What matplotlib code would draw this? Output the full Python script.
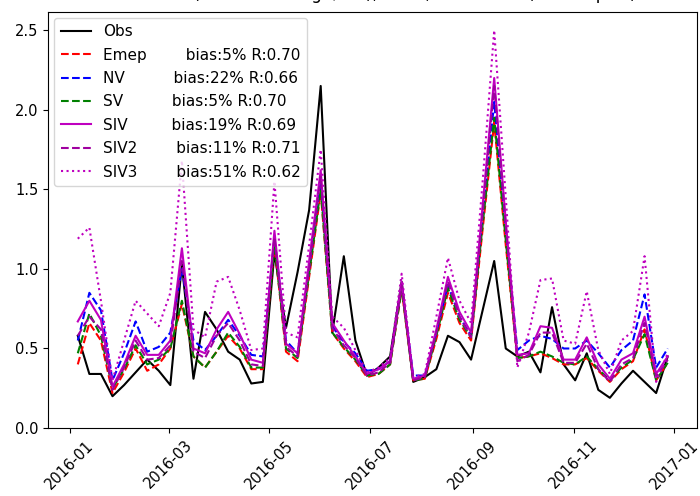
import matplotlib
matplotlib.use("Agg")
import matplotlib.pyplot as plt
import pandas as pd

dates = pd.date_range("2016-01-06", periods=52, freq="7D")

obs = [0.58, 0.34, 0.34, 0.20, 0.27, 0.35, 0.43, 0.36, 0.27, 1.03,
       0.31, 0.73, 0.62, 0.48, 0.43, 0.28, 0.29, 1.10, 0.63, 0.98,
       1.37, 2.15, 0.60, 1.08, 0.55, 0.33, 0.38, 0.45, 0.92, 0.29,
       0.32, 0.37, 0.58, 0.54, 0.43, 0.74, 1.05, 0.50, 0.45, 0.48,
       0.35, 0.76, 0.40, 0.30, 0.47, 0.24, 0.19, 0.28, 0.36, 0.29,
       0.22, 0.45]
emep = [0.40, 0.66, 0.55, 0.22, 0.35, 0.50, 0.36, 0.40, 0.50, 0.78,
        0.45, 0.38, 0.48, 0.58, 0.50, 0.37, 0.37, 1.15, 0.48, 0.42,
        0.95, 1.48, 0.60, 0.50, 0.42, 0.32, 0.34, 0.40, 0.87, 0.30,
        0.31, 0.56, 0.85, 0.66, 0.55, 1.25, 1.92, 1.15, 0.44, 0.45,
        0.47, 0.44, 0.40, 0.40, 0.44, 0.36, 0.29, 0.37, 0.42, 0.62,
        0.30, 0.41]
nv = [0.55, 0.85, 0.74, 0.30, 0.47, 0.67, 0.48, 0.51, 0.60, 1.00,
      0.55, 0.49, 0.58, 0.68, 0.58, 0.46, 0.45, 1.20, 0.55, 0.47,
      1.00, 1.55, 0.64, 0.54, 0.47, 0.36, 0.37, 0.42, 0.90, 0.33,
      0.33, 0.60, 0.90, 0.70, 0.58, 1.32, 2.05, 1.25, 0.49, 0.55,
      0.58, 0.56, 0.50, 0.50, 0.55, 0.47, 0.38, 0.49, 0.55, 0.84,
      0.38, 0.50]
sv = [0.47, 0.72, 0.58, 0.25, 0.37, 0.52, 0.40, 0.43, 0.50, 0.80,
      0.45, 0.38, 0.48, 0.60, 0.51, 0.38, 0.38, 1.15, 0.50, 0.44,
      0.97, 1.50, 0.60, 0.51, 0.43, 0.33, 0.34, 0.40, 0.88, 0.30,
      0.31, 0.58, 0.88, 0.68, 0.57, 1.28, 1.95, 1.18, 0.44, 0.45,
      0.48, 0.45, 0.41, 0.40, 0.45, 0.37, 0.30, 0.38, 0.43, 0.59,
      0.30, 0.41]
siv = [0.67, 0.80, 0.68, 0.26, 0.40, 0.58, 0.46, 0.46, 0.55, 1.13,
       0.50, 0.47, 0.62, 0.73, 0.59, 0.43, 0.41, 1.24, 0.53, 0.47,
       1.05, 1.62, 0.66, 0.55, 0.45, 0.34, 0.37, 0.42, 0.92, 0.31,
       0.33, 0.62, 0.95, 0.73, 0.60, 1.40, 2.20, 1.30, 0.46, 0.47,
       0.64, 0.63, 0.43, 0.43, 0.57, 0.40, 0.31, 0.43, 0.47, 0.70,
       0.34, 0.45]
siv2 = [0.58, 0.70, 0.62, 0.24, 0.38, 0.55, 0.43, 0.44, 0.52, 1.05,
        0.48, 0.44, 0.58, 0.66, 0.55, 0.40, 0.39, 1.20, 0.51, 0.45,
        1.00, 1.58, 0.63, 0.52, 0.44, 0.33, 0.35, 0.41, 0.90, 0.30,
        0.32, 0.60, 0.92, 0.70, 0.57, 1.35, 2.15, 1.27, 0.42, 0.46,
        0.60, 0.60, 0.41, 0.41, 0.53, 0.37, 0.29, 0.40, 0.44, 0.66,
        0.32, 0.43]
siv3 = [1.19, 1.26, 0.80, 0.30, 0.55, 0.80, 0.72, 0.64, 0.85, 1.68,
        0.62, 0.57, 0.92, 0.95, 0.74, 0.49, 0.50, 1.55, 0.60, 0.57,
        1.15, 1.75, 0.70, 0.63, 0.49, 0.35, 0.38, 0.44, 0.97, 0.32,
        0.34, 0.70, 1.07, 0.80, 0.66, 1.55, 2.50, 1.45, 0.38, 0.60,
        0.93, 0.94, 0.55, 0.53, 0.86, 0.49, 0.34, 0.55, 0.61, 1.08,
        0.29, 0.47]

labels = ["Obs",
          "Emep        bias:5% R:0.70",
          "NV          bias:22% R:0.66",
          "SV          bias:5% R:0.70",
          "SIV         bias:19% R:0.69",
          "SIV2        bias:11% R:0.71",
          "SIV3        bias:51% R:0.62"]

fig = plt.figure(figsize=(7.0, 4.96), dpi=100)
ax = fig.add_axes([0.069, 0.137, 0.927, 0.839])
ax.plot(dates, obs, color="k", ls="-", lw=1.5, label=labels[0])
ax.plot(dates, emep, color="r", ls="--", lw=1.5, label=labels[1])
ax.plot(dates, nv, color="b", ls="--", lw=1.5, label=labels[2])
ax.plot(dates, sv, color="g", ls="--", lw=1.5, label=labels[3])
ax.plot(dates, siv, color="m", ls="-", lw=1.5, label=labels[4])
ax.plot(dates, siv2, color="#a000a0", ls="--", lw=1.5, label=labels[5])
ax.plot(dates, siv3, color="m", ls=":", lw=1.5, label=labels[6])
ax.set_ylim(bottom=0)
ax.set_title("NO0002R (OC in PM10 ugC/m3), 2016, Birkenes II (52 samples)",
             fontsize=12, pad=9)
ax.legend(loc="upper left", fontsize=11, labelspacing=0.55,
          borderaxespad=0.4)
ax.tick_params(labelsize=10.5)
for t in ax.get_xticklabels():
    t.set_rotation(45)
fig.savefig("out.png", dpi=100)
